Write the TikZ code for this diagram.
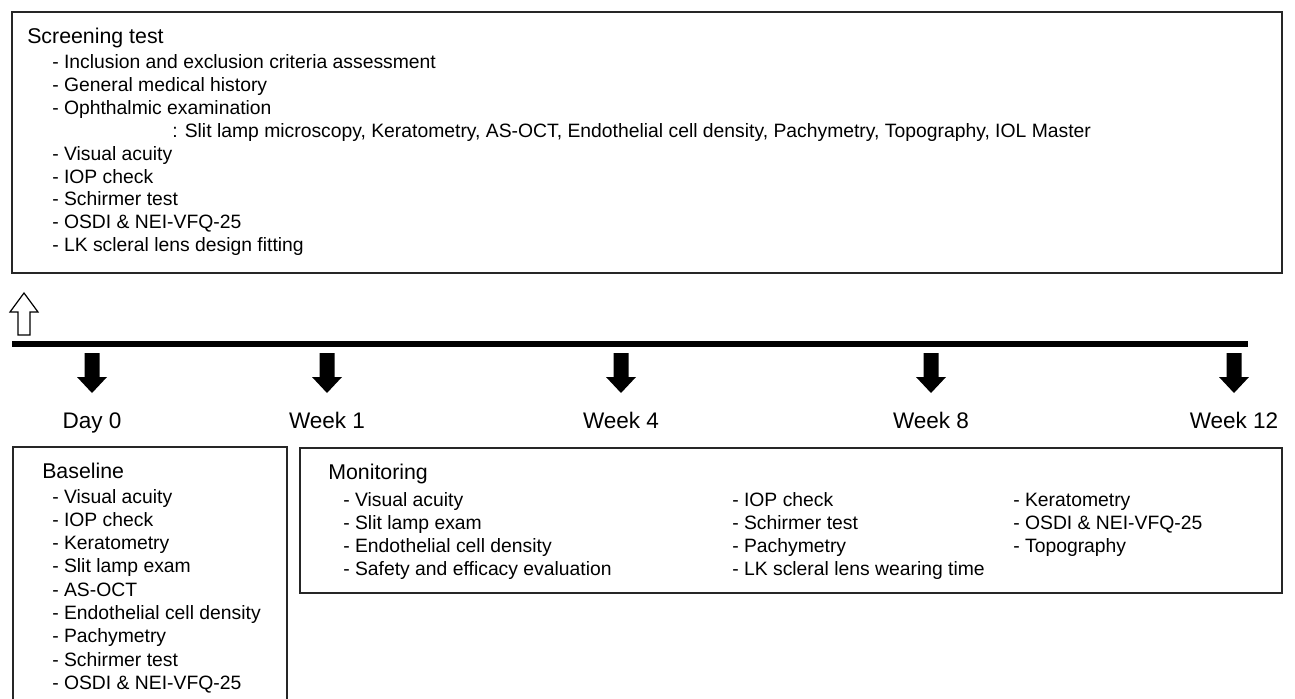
\documentclass[tikz,border=0pt]{standalone}
\usepackage{fontspec}
\setmainfont{Liberation Sans}
\usetikzlibrary{positioning,calc}

\tikzset{
  panel/.style={draw=black!85, line width=1.3pt},
  head/.style={anchor=base west, inner sep=0pt, font=\fontsize{16}{19}\selectfont},
  item/.style={anchor=base west, inner sep=0pt, font=\fontsize{14.5}{17}\selectfont},
  daylbl/.style={anchor=base, inner sep=0pt, font=\fontsize{16.9}{20}\selectfont},
}

\begin{document}
\begin{tikzpicture}[x=0.75pt, y=-0.75pt]
        \clip (0,0) rectangle (1295,699);

        % Screening test
        \draw[panel] (12,12) rectangle (1282,273);
        \node[head] (scrtitle) at (27,44) {Screening test};
        \foreach \xx/\txt [count=\i] in {52/- Inclusion and exclusion criteria assessment,
            52/- General medical history, 52/- Ophthalmic examination,
            172/{: Slit lamp microscopy, Keratometry, AS-OCT, Endothelial cell density, Pachymetry, Topography, IOL Master},
            52/- Visual acuity, 52/- IOP check, 52/- Schirmer test,
            52/- OSDI \& NEI-VFQ-25, 52/- LK scleral lens design fitting}
            \node[item] (scr\i) at (\xx, {69+22.8*(\i-1)}) {\txt};

        % Timeline
        \draw[fill=white, line width=0.9pt] (18,335) -- (18,312) -- (10,312) -- (24,293) -- (38,312) -- (30,312) -- (30,335) -- cycle;
        \coordinate (tstart) at (12,344);
        \coordinate (tend) at (1248,344);
        \draw[line width=4.5pt] (tstart) -- (tend);
        \foreach \xx/\lbl/\nm in {92/Day 0/day0, 327/Week 1/wk1, 621/Week 4/wk4, 931/Week 8/wk8, 1234/Week 12/wk12} {
            \fill (\xx-7.5,353) -- (\xx+7.5,353) -- (\xx+7.5,377) -- (\xx+15,377) -- (\xx,393) -- (\xx-15,377) -- (\xx-7.5,377) -- cycle;
            \node[daylbl] (\nm) at (\xx,428) {\lbl};
        }

        % Baseline
        \draw[panel] (13,447) rectangle (287,720);
        \node[head] (basetitle) at (42,478) {Baseline};
        \foreach \txt [count=\i] in {- Visual acuity, - IOP check, - Keratometry, - Slit lamp exam, - AS-OCT,
            - Endothelial cell density, - Pachymetry, - Schirmer test, - OSDI \& NEI-VFQ-25}
            \node[item] (base\i) at (52, {503+23.3*(\i-1)}) {\txt};

        % Monitoring
        \draw[panel] (300,448) rectangle (1282,593);
        \node[head] (montitle) at (328,479) {Monitoring};
        \foreach \txt [count=\i] in {- Visual acuity, - Slit lamp exam, - Endothelial cell density, - Safety and efficacy evaluation}
            \node[item] (mona\i) at (343, {506+23.3*(\i-1)}) {\txt};
        \foreach \txt [count=\i] in {- IOP check, - Schirmer test, - Pachymetry, - LK scleral lens wearing time}
            \node[item] (monb\i) at (732, {506+23.3*(\i-1)}) {\txt};
        \foreach \txt [count=\i] in {- Keratometry, - OSDI \& NEI-VFQ-25, - Topography}
            \node[item] (monc\i) at (1013, {506+23.3*(\i-1)}) {\txt};
\end{tikzpicture}
\end{document}
